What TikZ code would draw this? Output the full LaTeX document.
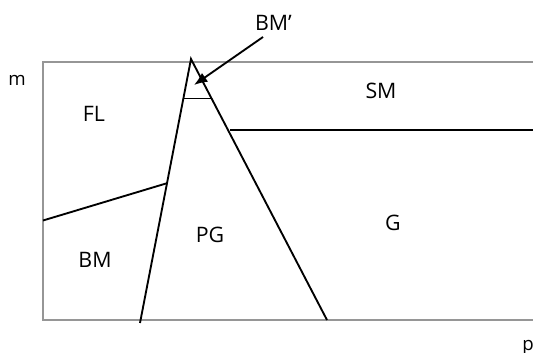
\documentclass[tikz,border=0pt]{standalone}
\usepackage{fontspec}
\setmainfont{Open Sans}
\usetikzlibrary{arrows.meta}
\definecolor{framegray}{RGB}{150,150,150}
\begin{document}
\begin{tikzpicture}[
    x=0.75pt, y=-0.75pt,
    frame/.style={draw=framegray, line width=1.5pt},
    boundary/.style={draw=black, line width=1.4pt},
    region/.style={inner sep=0pt, font=\fontsize{16}{19}\selectfont},
    axislabel/.style={inner sep=0pt, anchor=base, font=\fontsize{14}{17}\selectfont}]
    \clip (0,0) rectangle (533,353);
    % frame
    \draw [frame] (545,62) -- (43,62) -- (43,320) -- (545,320);
    % corners of the wedge
    \coordinate (apex) at (191,59);
    \coordinate (leftfoot) at (140,323);
    \coordinate (rightfoot) at (327,320);
    \coordinate (capleft) at (183.3,98.5);
    \coordinate (capright) at (211.7,98.5);
    \coordinate (smstart) at (230,130);
    \coordinate (smend) at (545,130);
    \coordinate (bmstart) at (43,220.5);
    \coordinate (bmend) at (166.7,183.3);
    \coordinate (arrowstart) at (263,37);
    \coordinate (tip) at (194,85);
    % boundaries
    \draw [boundary] (leftfoot) -- (apex) -- (rightfoot);
    \draw [boundary] (capleft) -- (capright);
    \draw [boundary] (smstart) -- (smend);
    \draw [boundary] (bmstart) -- (bmend);
    % labels
    \node [region] (bmp) at (273.5,23) {BM’};
    \node [region] (fl) at (94,114) {FL};
    \node [region] (sm) at (381,91) {SM};
    \node [region] (pg) at (210,235) {PG};
    \node [region] (g) at (393,223) {G};
    \node [region] (bm) at (95,260) {BM};
    \node [axislabel] (m) at (17,86) {m};
    \node [axislabel] (p) at (528,350) {p};
    \draw [boundary, -{Latex[length=10pt, width=8pt]}] (arrowstart) -- (tip);
\end{tikzpicture}
\end{document}
